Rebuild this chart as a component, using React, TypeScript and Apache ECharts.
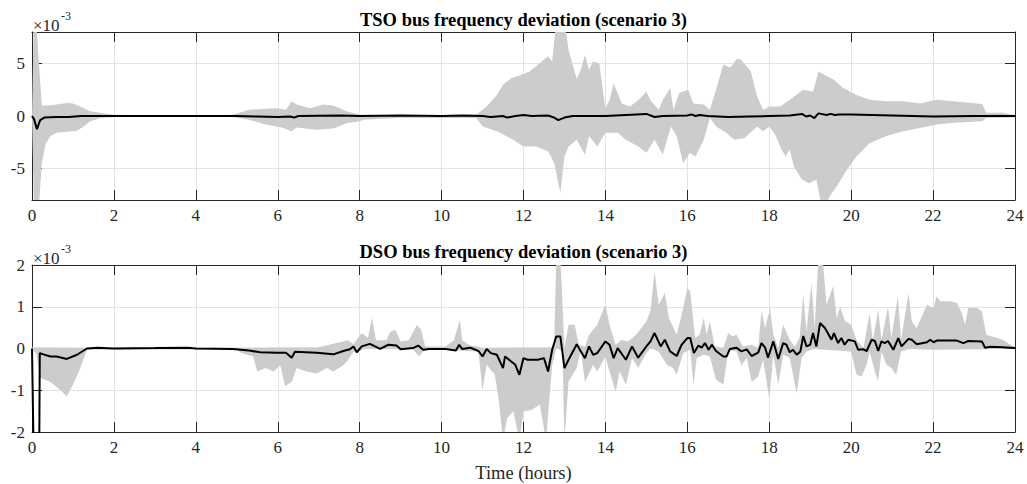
import React, { useEffect, useRef } from "react";
import * as echarts from "echarts";

// ---------- data (values in units of 1e-3, time in hours) ----------
const xTicks = [0, 2, 4, 6, 8, 10, 12, 14, 16, 18, 20, 22, 24];
const tsoYTicks = [-5, 0, 5];
const dsoYTicks = [-2, -1, 0, 1, 2];

const tsoUpper: number[][] = [
  [0, 0], [0.04, 8.5], [0.1, 9], [0.24, 1.0], [0.4, 1.0], [0.6, 1.1], [0.85, 1.25], [1.0, 1.2], [1.18, 0.9],
  [1.42, 0.45], [1.67, 0.3], [2.0, 0.12], [3, 0.06], [4, 0.05], [4.9, 0.12], [5.3, 0.6], [5.7, 0.7], [5.97, 0.75],
  [6.2, 0.6], [6.34, 1.4], [6.46, 1.1], [6.8, 0.75], [7.1, 1.1], [7.36, 1.0], [7.68, 0.45], [8.0, 0.13], [8.5, 0.1],
  [9.5, 0.08], [10.5, 0.1], [10.85, 0.15], [11.1, 0.9], [11.35, 2.0], [11.5, 3.0], [11.7, 3.6], [11.9, 3.85],
  [12.15, 4.25], [12.4, 5.05], [12.6, 5.7], [12.7, 5.2], [12.8, 9], [13.0, 9], [13.1, 6.3], [13.3, 3.5], [13.4, 4.4],
  [13.5, 5.8], [13.6, 4.4], [13.7, 5.2], [13.85, 5.0], [14.0, 0.75], [14.1, 1.5], [14.2, 3.1], [14.4, 1.2],
  [14.6, 0.9], [14.8, 1.5], [15.0, 2.3], [15.1, 1.5], [15.3, 0.6], [15.4, 1.5], [15.58, 2.7], [15.66, 0.6],
  [15.8, 2.2], [16.02, 2.5], [16.15, 1.2], [16.4, 1.1], [16.55, 0.6], [16.7, 2.5], [16.88, 4.9], [17.05, 4.6],
  [17.2, 5.4], [17.3, 5.4], [17.55, 4.25], [17.7, 1.9], [17.85, 0.6], [18.0, 0.9], [18.27, 0.9], [18.5, 1.55],
  [18.83, 2.5], [19.07, 2.3], [19.2, 4.25], [19.4, 3.8], [19.56, 3.5], [19.8, 2.7], [20.13, 2.0], [20.45, 1.55],
  [20.86, 1.4], [21.27, 1.4], [21.68, 1.2], [22.09, 1.55], [22.5, 1.4], [23.2, 1.15], [23.3, 0.3], [23.7, 0.3],
  [24, 0.1],
];

const tsoLower: number[][] = [
  [0, 0], [0.05, -9], [0.16, -9], [0.24, -4.5], [0.33, -2.7], [0.45, -1.9], [0.6, -1.6], [0.85, -1.5], [1.1, -1.4],
  [1.26, -1.0], [1.42, -0.5], [1.67, -0.2], [2.0, -0.1], [3, -0.05], [4, -0.05], [4.9, -0.1], [5.3, -0.35],
  [5.7, -0.8], [6.1, -1.1], [6.34, -1.45], [6.46, -1.1], [6.95, -1.3], [7.36, -1.2], [7.68, -0.7], [8.0, -0.5],
  [8.1, -0.35], [8.9, -0.2], [9.7, -0.2], [10.85, -0.2], [11.0, -1.0], [11.35, -1.45], [11.75, -2.25], [12.0, -2.9],
  [12.3, -2.9], [12.6, -3.35], [12.75, -4.5], [12.9, -7.3], [13.0, -3.85], [13.1, -2.9], [13.3, -2.25], [13.5, -3.7],
  [13.6, -1.9], [13.8, -2.9], [14.0, -1.6], [14.3, -1.6], [14.5, -2.25], [14.8, -2.9], [15.0, -3.5], [15.2, -2.25],
  [15.4, -3.7], [15.6, -1.0], [15.74, -1.9], [15.9, -4.5], [16.06, -3.5], [16.2, -3.85], [16.4, -2.25],
  [16.55, -0.2], [16.7, -1.0], [16.95, -1.6], [17.15, -2.25], [17.4, -2.1], [17.7, -1.0], [17.85, -1.45],
  [18.0, -1.0], [18.15, -1.8], [18.3, -3.2], [18.4, -3.85], [18.5, -3.2], [18.6, -4.8], [18.8, -6.05],
  [18.97, -6.4], [19.15, -6.05], [19.3, -9], [19.5, -7.5], [19.65, -6.7], [19.9, -5.1], [20.13, -3.85],
  [20.45, -2.6], [20.86, -1.9], [21.27, -1.45], [21.68, -1.15], [22.09, -0.8], [22.5, -0.65], [23.2, -0.5],
  [23.3, -0.2], [24, -0.15],
];

const tsoMean: number[][] = [
  [0, 0], [0.05, -0.3], [0.12, -1.25], [0.2, -0.4], [0.3, -0.15], [0.6, -0.1], [0.9, -0.1], [1.2, 0], [2, 0],
  [5, 0], [5.5, -0.05], [6.0, -0.1], [6.3, -0.05], [6.4, -0.15], [6.5, 0], [7.5, 0.05], [8, 0], [9, 0.05],
  [10, 0], [10.5, 0.05], [11, 0], [11.2, -0.1], [11.5, 0], [11.6, -0.15], [11.8, 0], [12, 0.1], [12.2, 0],
  [12.6, 0.05], [12.75, -0.15], [12.85, -0.4], [13.0, -0.15], [13.2, 0], [14, 0], [15, 0.2], [15.2, -0.1],
  [15.4, 0], [16, 0.05], [16.1, 0.15], [16.2, 0], [16.3, 0.1], [16.5, 0], [17.0, -0.1], [17.5, -0.05], [18, 0],
  [18.5, 0.05], [18.8, 0.2], [18.9, -0.05], [19.0, 0.05], [19.1, -0.2], [19.2, 0.25], [19.4, 0.1], [19.5, 0.2],
  [19.6, 0.1], [19.7, 0.15], [20, 0.15], [21, 0.05], [22, -0.05], [23, 0], [24, 0],
];

const dsoUpper: number[][] = [
  [0, 0.03], [1.34, 0.02], [5, 0.02], [7.0, 0.03], [7.72, 0.2], [7.85, 0.1], [8.05, 0.37], [8.2, 0.25],
  [8.3, 0.73], [8.4, 0.2], [8.65, 0.2], [8.75, 0.4], [8.87, 0.45], [9.0, 0.17], [9.2, 0.2], [9.4, 0.57],
  [9.5, 0.45], [9.6, 0.05], [10.1, 0.05], [10.3, 0.2], [10.45, 0.69], [10.5, 0.2], [10.7, 0.07], [10.9, 0.05],
  [11.0, 0.02], [12.7, 0.03], [12.75, 0.13], [12.8, 2.2], [12.9, 2.2], [13.0, 0.01], [13.1, 0.57], [13.25, 0.57],
  [13.35, 0.09], [13.5, 0.05], [13.6, 0.33], [13.8, 0.57], [14.0, 1.05], [14.1, 0.57], [14.25, 0.09],
  [14.4, 0.21], [14.55, 0.17], [14.75, 0.33], [15.0, 0.65], [15.1, 0.89], [15.2, 1.85], [15.3, 1.05],
  [15.45, 1.33], [15.55, 0.73], [15.74, 0.33], [15.9, 0.97], [16.0, 1.45], [16.07, 1.37], [16.19, 0.25],
  [16.3, 0.33], [16.4, 0.73], [16.47, 0.33], [16.55, 0.65], [16.67, 0.05], [16.88, 0.02], [17.0, 0.37],
  [17.1, 0.29], [17.2, 0.33], [17.36, 0.05], [17.57, 0.09], [17.73, 0.02], [17.81, 0.89], [17.9, 0.49],
  [18.02, 0.97], [18.1, 0.33], [18.22, 0.01], [18.34, 0.57], [18.5, 0.21], [18.62, 0.05], [18.74, 0.25],
  [18.83, 1.29], [18.91, 0.41], [19.03, 1.57], [19.11, 0.49], [19.2, 2.2], [19.3, 2.2], [19.4, 1.05],
  [19.56, 1.49], [19.65, 0.73], [19.73, 1.0], [19.85, 0.65], [20.0, 0.57], [20.13, 0.21], [20.3, 0.01],
  [20.45, 0.85], [20.53, 0.19], [20.66, 0.93], [20.74, 0.21], [20.9, 1.0], [20.98, 0.25], [21.14, 1.25],
  [21.22, 0.21], [21.4, 1.33], [21.48, 0.65], [21.6, 0.49], [21.85, 1.05], [22.01, 0.97], [22.09, 1.25],
  [22.17, 1.13], [22.41, 1.13], [22.58, 1.09], [22.7, 0.85], [22.78, 0.57], [22.86, 0.97], [23.07, 0.97],
  [23.19, 0.89], [23.3, 0.33], [23.7, 0.21], [24, 0.02],
];

const dsoLower: number[][] = [
  [0, -0.05], [0.1, -0.1], [0.2, -0.7], [0.45, -0.8], [0.7, -1.0], [0.85, -1.15], [1.0, -0.87], [1.18, -0.47],
  [1.34, -0.03], [5.0, -0.02], [5.1, -0.1], [5.4, -0.19], [5.5, -0.55], [5.7, -0.47], [5.9, -0.55], [6.06, -0.4],
  [6.18, -0.9], [6.34, -0.8], [6.46, -0.47], [6.7, -0.55], [6.95, -0.6], [7.2, -0.47], [7.36, -0.55], [7.6, -0.4],
  [7.7, -0.3], [7.85, -0.07], [7.93, -0.11], [8.1, -0.01], [9.3, -0.02], [9.45, -0.19], [9.55, -0.07],
  [9.7, -0.01], [10.9, -0.07], [11.0, -1.0], [11.1, -0.39], [11.3, -0.63], [11.4, -1.27], [11.5, -2.2],
  [11.6, -1.67], [11.75, -1.5], [11.9, -2.2], [12.0, -1.51], [12.2, -1.47], [12.4, -1.35], [12.55, -2.2],
  [12.6, -1.59], [12.7, -0.39], [12.8, 0.01], [12.95, -0.07], [13.0, -2.2], [13.1, -0.79], [13.3, -0.47],
  [13.4, -0.03], [13.5, -0.8], [13.7, -0.39], [13.8, -0.55], [14.0, -0.19], [14.1, -0.55], [14.25, -1.03],
  [14.35, -0.55], [14.5, -0.87], [14.65, -0.23], [14.8, -0.47], [15.0, -0.11], [15.1, 0.01], [15.3, -0.07],
  [15.5, -0.39], [15.65, -0.47], [15.74, -0.63], [15.9, -0.11], [16.07, -0.03], [16.15, -0.87], [16.23, -0.23],
  [16.4, -0.15], [16.55, -0.19], [16.7, -0.75], [16.88, -0.87], [17.0, -0.03], [17.2, -0.07], [17.32, -0.4],
  [17.45, -0.23], [17.57, -0.8], [17.73, -0.67], [17.85, -0.27], [18.0, -1.19], [18.1, -0.15], [18.22, -0.87],
  [18.34, -0.15], [18.5, -0.23], [18.67, -1.07], [18.79, -0.23], [18.91, -0.07], [19.1, -0.01], [20.0, -0.07],
  [20.13, -0.63], [20.25, -0.67], [20.38, -0.39], [20.45, -0.07], [20.58, -0.55], [20.66, -0.79], [20.74, -0.07],
  [20.86, -0.39], [20.98, -0.47], [21.1, -0.63], [21.22, -0.07], [21.43, -0.01], [22, -0.03], [23.2, -0.02],
  [24, 0.0],
];

const dsoMean: number[][] = [
  [0, 0], [0.04, -2.5], [0.06, -9], [0.14, -9], [0.19, -0.11], [0.28, -0.14], [0.45, -0.19], [0.6, -0.19],
  [0.85, -0.25], [1.1, -0.15], [1.34, 0.0], [1.6, 0.02], [2, 0], [3, 0.01], [3.8, 0.02], [4, 0], [4.9, -0.01],
  [5.3, -0.05], [5.57, -0.09], [5.97, -0.1], [6.2, -0.1], [6.34, -0.22], [6.42, -0.08], [6.95, -0.1],
  [7.36, -0.14], [7.6, -0.06], [7.76, -0.02], [7.85, 0.05], [7.93, -0.09], [8.05, 0.05], [8.25, 0.11],
  [8.5, -0.01], [8.7, 0.09], [8.9, 0.07], [9.0, -0.02], [9.3, 0.01], [9.43, 0.07], [9.55, -0.03], [9.7, -0.01],
  [10.1, -0.01], [10.35, -0.05], [10.43, 0.09], [10.5, -0.01], [10.7, 0.02], [10.9, -0.06], [11.0, -0.19],
  [11.1, -0.01], [11.2, -0.11], [11.35, -0.15], [11.5, -0.47], [11.55, -0.19], [11.7, -0.31], [11.8, -0.39],
  [11.9, -0.63], [12.0, -0.23], [12.1, -0.27], [12.35, -0.27], [12.5, -0.23], [12.6, -0.55], [12.7, -0.03],
  [12.8, 0.29], [12.9, 0.29], [13.0, -0.47], [13.1, -0.27], [13.3, 0.1], [13.4, -0.07], [13.5, -0.23],
  [13.6, 0.05], [13.7, -0.15], [13.8, -0.11], [14.0, 0.17], [14.1, 0.09], [14.2, -0.23], [14.3, 0.01],
  [14.5, -0.27], [14.65, 0.05], [14.8, -0.22], [15.0, 0.05], [15.1, 0.17], [15.2, 0.37], [15.35, 0.05],
  [15.45, 0.21], [15.58, -0.07], [15.74, -0.18], [15.86, 0.09], [16.0, 0.25], [16.07, 0.25], [16.16, -0.11],
  [16.27, 0.07], [16.35, 0.02], [16.43, 0.13], [16.52, -0.03], [16.6, 0.09], [16.7, -0.06], [16.88, -0.19],
  [16.96, -0.19], [17.04, -0.01], [17.2, 0.02], [17.32, -0.07], [17.45, -0.02], [17.57, -0.18], [17.73, -0.1],
  [17.81, 0.13], [17.9, 0.02], [17.97, -0.22], [18.1, 0.17], [18.22, -0.25], [18.34, 0.13], [18.42, 0.09],
  [18.5, -0.09], [18.58, -0.03], [18.67, -0.15], [18.76, -0.07], [18.83, 0.3], [18.91, 0.05], [19.0, 0.09],
  [19.07, 0.37], [19.15, 0.05], [19.24, 0.61], [19.36, 0.49], [19.52, 0.21], [19.58, 0.37], [19.68, 0.13],
  [19.76, 0.25], [19.84, 0.09], [19.93, 0.21], [20.09, 0.17], [20.17, -0.03], [20.3, -0.02], [20.38, -0.06],
  [20.5, 0.21], [20.58, 0.18], [20.66, -0.06], [20.74, 0.17], [20.82, 0.13], [20.9, 0.18], [21.03, -0.03],
  [21.15, 0.25], [21.23, 0.05], [21.4, 0.23], [21.48, 0.21], [21.6, 0.1], [21.85, 0.15], [21.93, 0.21],
  [22.01, 0.15], [22.09, 0.19], [22.58, 0.19], [22.74, 0.13], [22.86, 0.18], [23.19, 0.17], [23.27, 0.02],
  [23.4, 0.04], [23.7, 0.03], [24, 0.01],
];

// ---------- styling ----------
const FONT = '"Liberation Serif", "Times New Roman", serif';
const AX = "#262626";
const GRIDC = "#e3e3e3";
const BAND = "#cccccc";

function bandSeries(upper: number[][], lower: number[][], idx: number) {
  return {
    type: "custom",
    xAxisIndex: idx * 2,
    yAxisIndex: idx * 2,
    clip: true,
    silent: true,
    z: 1,
    data: [[0, 0]],
    renderItem: (_p: any, api: any) => {
      const pts = upper.map((p) => api.coord(p)).concat(
        lower.slice().reverse().map((p) => api.coord(p))
      );
      return { type: "polygon", shape: { points: pts }, style: { fill: BAND, stroke: null } };
    },
  };
}

function xAxes(gridIndex: number) {
  return [
    {
      type: "value", gridIndex, min: 0, max: 24, interval: 2, position: "bottom",
      axisLine: { show: true, onZero: false, lineStyle: { color: AX, width: 1 } },
      axisTick: { show: true, inside: true, length: 10, lineStyle: { color: AX } },
      axisLabel: { show: true, color: AX, fontFamily: FONT, fontSize: 17, margin: 7 },
      splitLine: { show: true, lineStyle: { color: GRIDC, width: 1 } },
      ...(gridIndex === 1
        ? {
            name: "Time (hours)", nameLocation: "middle", nameGap: 31,
            nameTextStyle: { color: AX, fontFamily: FONT, fontSize: 18.5 },
          }
        : {}),
    },
    {
      type: "value", gridIndex, min: 0, max: 24, interval: 2, position: "top",
      axisLine: { show: true, onZero: false, lineStyle: { color: AX, width: 1 } },
      axisTick: { show: true, inside: true, length: 10, lineStyle: { color: AX } },
      axisLabel: { show: false },
      splitLine: { show: false },
    },
  ];
}

function yAxes(gridIndex: number, min: number, max: number, ticks: number[]) {
  const base = { type: "value", gridIndex, min, max };
  return [
    {
      ...base, position: "left",
      axisLine: { show: true, onZero: false, lineStyle: { color: AX, width: 1 } },
      axisTick: { show: true, inside: true, length: 10, lineStyle: { color: AX }, customValues: ticks },
      axisLabel: { show: true, color: AX, fontFamily: FONT, fontSize: 17, margin: 7, customValues: ticks },
      splitLine: { show: true, lineStyle: { color: GRIDC, width: 1 } },
    },
    {
      ...base, position: "right",
      axisLine: { show: true, onZero: false, lineStyle: { color: AX, width: 1 } },
      axisTick: { show: true, inside: true, length: 10, lineStyle: { color: AX }, customValues: ticks },
      axisLabel: { show: false, customValues: ticks },
      splitLine: { show: false },
    },
  ];
}

export default function App() {
  const ref = useRef<HTMLDivElement>(null);
  useEffect(() => {
    if (!ref.current) return;
    const chart = echarts.init(ref.current, undefined, { renderer: "svg" });
    const L = 32, W = 983;
    const grids = [
      { left: L, top: 32, width: W, height: 168 },
      { left: L, top: 265, width: W, height: 167 },
    ];
    const titleText = (text: string, y: number) => ({
      type: "text", x: L + W / 2, y,
      style: { text, fill: "#000", font: `bold 18.5px ${FONT}`, textAlign: "center", textVerticalAlign: "middle" },
    });
    const exp = (y: number) => [
      { type: "text", x: 33, y, style: { text: "×10", fill: AX, font: `17px ${FONT}`, textAlign: "left", textVerticalAlign: "middle" } },
      { type: "text", x: 61, y: y - 9, style: { text: "-3", fill: AX, font: `12px ${FONT}`, textAlign: "left", textVerticalAlign: "middle" } },
    ];
    chart.setOption({
      animation: false,
      backgroundColor: "#ffffff",
      grid: grids,
      xAxis: [...xAxes(0), ...xAxes(1)],
      yAxis: [...yAxes(0, -8, 8, tsoYTicks), ...yAxes(1, -2, 2, dsoYTicks)],
      graphic: [
        titleText("TSO bus frequency deviation (scenario 3)", 20),
        titleText("DSO bus frequency deviation (scenario 3)", 252),
        ...exp(25),
        ...exp(258),
      ],
      series: [
        bandSeries(tsoUpper, tsoLower, 0),
        {
          type: "line", xAxisIndex: 0, yAxisIndex: 0, data: tsoMean, showSymbol: false, z: 3,
          lineStyle: { color: "#000", width: 2 }, clip: true,
        },
        bandSeries(dsoUpper, dsoLower, 1),
        {
          type: "line", xAxisIndex: 2, yAxisIndex: 2, data: dsoMean, showSymbol: false, z: 3,
          lineStyle: { color: "#000", width: 2 }, clip: true,
        },
      ],
    });
    return () => chart.dispose();
  }, []);
  return <div ref={ref} style={{ position: "fixed", left: 0, top: 0, width: 1027, height: 484 }} />;
}
